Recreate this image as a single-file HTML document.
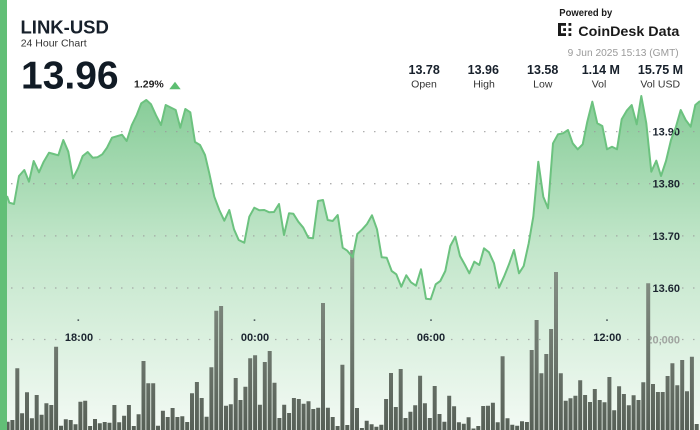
<!DOCTYPE html>
<html>
<head>
<meta charset="utf-8">
<style>
html,body{margin:0;padding:0;background:#fff;}
body{width:700px;height:430px;overflow:hidden;}
svg{display:block;font-family:"Liberation Sans",Arial,sans-serif;}
</style>
</head>
<body>
<svg width="700" height="430" viewBox="0 0 700 430" xmlns="http://www.w3.org/2000/svg">
<defs>
<linearGradient id="ag" gradientUnits="userSpaceOnUse" x1="0" y1="95" x2="0" y2="430">
<stop offset="0" stop-color="#86cc97"/>
<stop offset="0.45" stop-color="#c2e6ca"/>
<stop offset="1" stop-color="#f3faf4"/>
</linearGradient>
<linearGradient id="bg" gradientUnits="userSpaceOnUse" x1="0" y1="250" x2="0" y2="430">
<stop offset="0" stop-color="#8a958a"/>
<stop offset="1" stop-color="#576057"/>
</linearGradient>
</defs>
<rect width="700" height="430" fill="#fff"/>

<!-- area -->
<path fill="url(#ag)" d="M7,430 L7,196 L9.3,202.7 L14,204 L19,176 L24.3,170 L29,181.7 L33.7,161 L39,172.3 L43.7,161.7 L49,152.7 L53.7,154 L58.3,155.3 L63.3,140 L68.3,151.7 L73,178.3 L78,168.3 L82.7,156 L87.7,152 L92.7,157.7 L97.3,157.3 L102.3,154.3 L107,147.7 L112,137.7 L117,136.2 L122,134.7 L126.7,141 L131.7,125.3 L136.7,115 L141.3,103.3 L146.3,100 L151,104.3 L156,115.3 L161,125 L165.7,105 L170.7,107.5 L175.7,110 L180.3,127.7 L185.3,109 L190.3,112.3 L195,142 L200,145 L205,155 L209.3,173.3 L214.3,196.7 L219.3,210 L224.3,220.7 L229.3,210 L234,229.3 L238.7,240 L244.3,242.7 L249.3,216.7 L254.3,207.7 L259.3,210.3 L264.3,210 L269.3,212.3 L274,212 L279,204 L284,235 L289,213.3 L293.3,213.7 L298.3,221.7 L303.3,227.7 L308.3,237.7 L313,238.3 L318,201 L323,200 L327.7,220 L332.7,221 L337.7,215 L342.7,247.7 L347.3,250.7 L352.7,257.3 L357.3,234 L362.3,229.3 L367,224 L372,215.3 L377,229.3 L381.7,257.3 L386.7,257.7 L391.7,271 L396.3,274.3 L401.3,286.7 L406.3,275.3 L411,282.3 L416,285.7 L421,269.3 L426,298.7 L430.7,299.3 L435.7,284.3 L440.3,281 L445.3,271 L450.3,246 L455.3,236.7 L460,256 L465,265 L469.3,273.3 L474.3,261.7 L479.3,265 L484,248.3 L489,252.3 L494,263.3 L499,287.7 L504,276.7 L509,264.3 L514,250 L519,273.3 L523.7,266 L528.7,243.3 L533.3,216.7 L538.3,161.7 L543.3,196.7 L548,208.3 L553,143.3 L558,134.3 L563,133.3 L568,130 L572.7,143.3 L577.7,149.3 L582.7,144.3 L587.3,121.7 L592.3,101.7 L597.3,123.3 L602.3,126 L607,149.3 L612,146.7 L617,149.3 L621.7,119.3 L626.7,110.7 L631.7,105 L636.7,124.3 L641.3,96 L646.3,123.3 L651.3,171.7 L656.3,160.7 L661,176 L666,161 L671,140 L676,126.7 L680.7,110 L685.7,120 L690.7,126.7 L695.3,105 L700,101 L700,430 Z"/>

<!-- grid dots -->
<g stroke="#9a9a9a" stroke-width="1.3" stroke-dasharray="1.2 9.8">
<line x1="11.2" y1="131.6" x2="700" y2="131.6"/>
<line x1="11.2" y1="183.7" x2="700" y2="183.7"/>
<line x1="11.2" y1="235.9" x2="700" y2="235.9"/>
<line x1="11.2" y1="288" x2="700" y2="288"/>
<line x1="11.2" y1="339.5" x2="700" y2="339.5"/>
</g>

<!-- y labels -->
<g font-size="11" font-weight="bold" fill="#1c2530" text-anchor="end">
<text x="680" y="135.6">13.90</text>
<text x="680" y="187.7">13.80</text>
<text x="680" y="239.9">13.70</text>
<text x="680" y="292">13.60</text>
</g>
<text x="680" y="343.5" font-size="11" font-weight="bold" fill="#a0a4a0" text-anchor="end">20,000</text>

<!-- volume bars -->
<path stroke="url(#bg)" stroke-width="4" fill="none" d="M7.6 430V421.7M12.4 430V420M17.3 430V368.3M22.1 430V413.3M27 430V392.3M31.9 430V418.3M36.7 430V395M41.6 430V414.7M46.4 430V403.3M51.3 430V405M56.1 430V346.7M61 430V425.7M65.8 430V419.3M70.7 430V420M75.5 430V424.3M80.4 430V401.7M85.2 430V400.7M90.1 430V426M95 430V419M99.8 430V423.3M104.7 430V422M109.5 430V422.7M114.4 430V405M119.2 430V422.3M124.1 430V415.7M128.9 430V405M133.8 430V426M138.6 430V414.3M143.5 430V361M148.3 430V383.3M153.2 430V383.3M158 430V425.7M162.9 430V410.7M167.7 430V417M172.6 430V408M177.4 430V417M182.3 430V416.3M187.2 430V422M192 430V393.3M196.9 430V382M201.7 430V398M206.6 430V416.7M211.4 430V367.3M216.3 430V310.7M221.1 430V306M226 430V405.7M230.8 430V404.3M235.7 430V378M240.5 430V400M245.4 430V386.7M250.2 430V358.3M255.1 430V355.3M259.9 430V404.7M264.8 430V362M269.7 430V351M274.5 430V382.7M279.4 430V418M284.2 430V404.7M289.1 430V413M293.9 430V398M298.8 430V399M303.6 430V403.7M308.5 430V401.3M313.3 430V409M318.2 430V407.7M323 430V303M327.9 430V407.7M332.7 430V417M337.6 430V426M342.4 430V364.7M347.3 430V425M352.2 430V250M357 430V408M361.9 430V428M366.7 430V420.7M371.6 430V424.3M376.4 430V426.7M381.3 430V424.7M386.1 430V399M391 430V373M395.8 430V407M400.7 430V369M405.5 430V418M410.4 430V411.7M415.2 430V405.3M420.1 430V375.7M424.9 430V403.3M429.8 430V418M434.7 430V386M439.5 430V414M444.4 430V421.7M449.2 430V395.7M454.1 430V406.3M458.9 430V422.3M463.8 430V423.7M468.6 430V417.3M473.5 430V428.5M478.3 430V426M483.2 430V406M488 430V405.7M492.9 430V402.7M497.7 430V422.3M502.6 430V356.3M507.5 430V418.3M512.3 430V424.7M517.2 430V425.7M522 430V421.3M526.9 430V422M531.7 430V350M536.6 430V320M541.4 430V373.3M546.3 430V354M551.1 430V329M556 430V272M560.8 430V373.3M565.7 430V400.7M570.5 430V398.3M575.4 430V395.7M580.2 430V380.3M585.1 430V395M590 430V402M594.8 430V389M599.7 430V400M604.5 430V402.3M609.4 430V377M614.2 430V410.3M619.1 430V386.3M623.9 430V394M628.8 430V405.3M633.6 430V395.3M638.5 430V400M643.3 430V382.3M648.2 430V283.3M653 430V384M657.9 430V392M662.7 430V392M667.6 430V376M672.4 430V363.3M677.3 430V385.3M682.2 430V360M687 430V391.3M691.9 430V356.7M696.7 430V424"/>

<!-- price line -->
<path fill="none" stroke="#6cc27f" stroke-width="2" stroke-linejoin="round" d="M7,196 L9.3,202.7 L14,204 L19,176 L24.3,170 L29,181.7 L33.7,161 L39,172.3 L43.7,161.7 L49,152.7 L53.7,154 L58.3,155.3 L63.3,140 L68.3,151.7 L73,178.3 L78,168.3 L82.7,156 L87.7,152 L92.7,157.7 L97.3,157.3 L102.3,154.3 L107,147.7 L112,137.7 L117,136.2 L122,134.7 L126.7,141 L131.7,125.3 L136.7,115 L141.3,103.3 L146.3,100 L151,104.3 L156,115.3 L161,125 L165.7,105 L170.7,107.5 L175.7,110 L180.3,127.7 L185.3,109 L190.3,112.3 L195,142 L200,145 L205,155 L209.3,173.3 L214.3,196.7 L219.3,210 L224.3,220.7 L229.3,210 L234,229.3 L238.7,240 L244.3,242.7 L249.3,216.7 L254.3,207.7 L259.3,210.3 L264.3,210 L269.3,212.3 L274,212 L279,204 L284,235 L289,213.3 L293.3,213.7 L298.3,221.7 L303.3,227.7 L308.3,237.7 L313,238.3 L318,201 L323,200 L327.7,220 L332.7,221 L337.7,215 L342.7,247.7 L347.3,250.7 L352.7,257.3 L357.3,234 L362.3,229.3 L367,224 L372,215.3 L377,229.3 L381.7,257.3 L386.7,257.7 L391.7,271 L396.3,274.3 L401.3,286.7 L406.3,275.3 L411,282.3 L416,285.7 L421,269.3 L426,298.7 L430.7,299.3 L435.7,284.3 L440.3,281 L445.3,271 L450.3,246 L455.3,236.7 L460,256 L465,265 L469.3,273.3 L474.3,261.7 L479.3,265 L484,248.3 L489,252.3 L494,263.3 L499,287.7 L504,276.7 L509,264.3 L514,250 L519,273.3 L523.7,266 L528.7,243.3 L533.3,216.7 L538.3,161.7 L543.3,196.7 L548,208.3 L553,143.3 L558,134.3 L563,133.3 L568,130 L572.7,143.3 L577.7,149.3 L582.7,144.3 L587.3,121.7 L592.3,101.7 L597.3,123.3 L602.3,126 L607,149.3 L612,146.7 L617,149.3 L621.7,119.3 L626.7,110.7 L631.7,105 L636.7,124.3 L641.3,96 L646.3,123.3 L651.3,171.7 L656.3,160.7 L661,176 L666,161 L671,140 L676,126.7 L680.7,110 L685.7,120 L690.7,126.7 L695.3,105 L700,101"/>

<!-- x ticks & labels -->
<g fill="#1c2530">
<rect x="77.5" y="319.5" width="1.6" height="1.2"/>
<rect x="253.7" y="319.5" width="1.6" height="1.2"/>
<rect x="430.2" y="319.5" width="1.6" height="1.2"/>
<rect x="606.2" y="319.5" width="1.6" height="1.2"/>
</g>
<g font-size="11" font-weight="bold" fill="#1c2530" text-anchor="middle">
<text x="79" y="341">18:00</text>
<text x="255" y="341">00:00</text>
<text x="431" y="341">06:00</text>
<text x="607.3" y="341">12:00</text>
</g>

<!-- header left -->
<text x="20.5" y="33.3" font-size="18.5" font-weight="bold" fill="#17202b">LINK-USD</text>
<text x="20.7" y="46.7" font-size="10.5" fill="#333">24 Hour Chart</text>
<text x="21" y="88.3" font-size="39" font-weight="bold" fill="#111b25">13.96</text>
<text x="134" y="87.7" font-size="10.5" font-weight="bold" fill="#222">1.29%</text>
<polygon points="169.3,89.3 180.7,89.3 175,81.7" fill="#5dbe71"/>

<!-- header right -->
<text x="559.3" y="16" font-size="10" font-weight="bold" fill="#1a1a1a" textLength="53" lengthAdjust="spacingAndGlyphs">Powered by</text>
<g fill="#1a1a1a">
<rect x="558" y="23" width="3" height="13"/>
<rect x="558" y="23" width="8" height="2.8"/>
<rect x="558" y="33.2" width="8" height="2.8"/>
<rect x="563.2" y="28.2" width="2.8" height="2.8"/>
<rect x="568.5" y="23" width="2.8" height="2.8"/>
<rect x="568.5" y="28.2" width="2.8" height="2.8"/>
<rect x="568.5" y="33.2" width="2.8" height="2.8"/>
</g>
<text x="578.3" y="36" font-size="14" font-weight="bold" fill="#1a1a1a" textLength="101" lengthAdjust="spacingAndGlyphs">CoinDesk Data</text>
<text x="678.7" y="56" font-size="10" fill="#9a9a9a" text-anchor="end" textLength="111" lengthAdjust="spacingAndGlyphs">9 Jun 2025 15:13 (GMT)</text>

<g font-size="12.5" font-weight="bold" fill="#17202b" text-anchor="middle">
<text x="424.2" y="74">13.78</text>
<text x="483.3" y="74">13.96</text>
<text x="542.7" y="74">13.58</text>
<text x="600.8" y="74">1.14 M</text>
<text x="660.5" y="74">15.75 M</text>
</g>
<g font-size="10.5" fill="#333" text-anchor="middle">
<text x="424" y="87.3">Open</text>
<text x="484" y="87.3">High</text>
<text x="542.8" y="87.3">Low</text>
<text x="599" y="87.3">Vol</text>
<text x="660.2" y="87.3">Vol USD</text>
</g>

<!-- left strip -->
<rect x="0" y="0" width="7" height="430" fill="#62bf77"/>
</svg>
</body>
</html>
